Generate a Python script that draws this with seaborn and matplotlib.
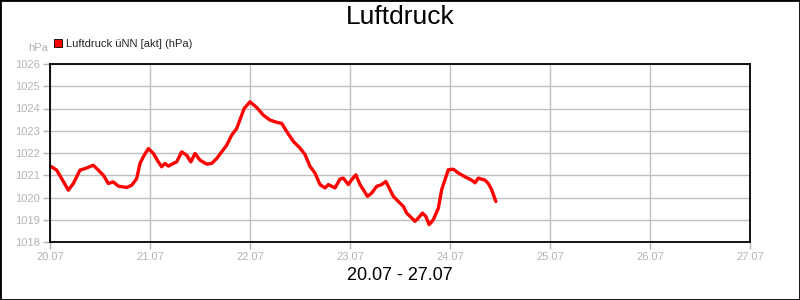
import matplotlib
matplotlib.use("Agg")
import matplotlib.pyplot as plt
from matplotlib.lines import Line2D
from matplotlib.patches import Rectangle
import seaborn as sns
import pandas as pd

# hours since 20.07 00:00
hours = [0.0, 0.4, 1.6, 2.8, 4.4, 5.6, 7.2, 8.4, 10.4, 11.6, 12.8, 14.0, 15.2, 16.4,
         18.4, 19.6, 20.8, 21.6, 22.4, 23.6, 24.8, 26.0, 26.8, 27.6, 28.4, 29.6, 30.4,
         31.6, 32.8, 33.8, 34.8, 36.0, 37.6, 38.8, 40.0, 41.2, 42.4, 43.6, 44.8, 45.6,
         46.6, 48.0, 49.6, 51.2, 52.8, 54.4, 55.6, 56.8, 58.4, 60.0, 61.2, 62.4, 63.6,
         64.8, 66.0, 66.8, 68.4, 69.6, 70.4, 71.6, 72.4, 73.4, 74.4, 75.2, 76.2, 77.2,
         78.4, 79.6, 80.6, 81.6, 82.4, 83.6, 84.8, 85.6, 86.8, 87.6, 88.4, 89.4, 90.2,
         91.0, 92.0, 93.2, 94.0, 94.8, 95.6, 96.8, 98.0, 99.6, 101.2, 102.0, 102.8,
         104.4, 105.2, 106.0, 107.0]
pressure = [1021.35, 1021.38, 1021.23, 1020.85, 1020.33, 1020.63, 1021.23, 1021.30,
            1021.45, 1021.23, 1021.00, 1020.63, 1020.70, 1020.51, 1020.45, 1020.55,
            1020.85, 1021.53, 1021.83, 1022.20, 1021.98, 1021.60, 1021.38, 1021.53,
            1021.41, 1021.53, 1021.60, 1022.05, 1021.90, 1021.60, 1021.98, 1021.68,
            1021.50, 1021.53, 1021.75, 1022.05, 1022.35, 1022.80, 1023.10, 1023.50,
            1024.00, 1024.30, 1024.05, 1023.70, 1023.48, 1023.38, 1023.33, 1022.97,
            1022.52, 1022.22, 1021.93, 1021.40, 1021.10, 1020.58, 1020.43, 1020.58,
            1020.43, 1020.83, 1020.87, 1020.58, 1020.80, 1021.02, 1020.58, 1020.35,
            1020.05, 1020.20, 1020.50, 1020.58, 1020.72, 1020.35, 1020.05, 1019.82,
            1019.60, 1019.30, 1019.08, 1018.93, 1019.08, 1019.30, 1019.15, 1018.78,
            1019.00, 1019.52, 1020.35, 1020.80, 1021.25, 1021.27, 1021.10, 1020.93,
            1020.78, 1020.66, 1020.87, 1020.78, 1020.63, 1020.35, 1019.82]

x_tick_labels = ["20.07", "21.07", "22.07", "23.07", "24.07", "25.07", "26.07", "27.07"]
y_ticks = [1018, 1019, 1020, 1021, 1022, 1023, 1024, 1025, 1026]
series_name = "Luftdruck üNN [akt] (hPa)"

sns.set_style("white")
plt.rcParams['font.family'] = ['Liberation Sans', 'DejaVu Sans']

df = pd.DataFrame({"hours": hours, "pressure": pressure})

fig = plt.figure(figsize=(8, 3), dpi=100)
ax = fig.add_axes([50 / 800, 58 / 300, 700 / 800, 178 / 300])

sns.lineplot(data=df, x="hours", y="pressure", ax=ax, color="#ff0000",
             linewidth=2.4, legend=False)

tick_gray = "#b4b4b4"
ax.set_xlim(0, 24 * 7)
ax.set_ylim(1018, 1026)
ax.set_xticks([24 * i for i in range(len(x_tick_labels))])
ax.set_xticklabels(x_tick_labels)
ax.set_yticks(y_ticks)
ax.set_yticklabels([str(v) for v in y_ticks])
ax.tick_params(axis="both", which="both", direction="out", length=5, width=1,
               color=tick_gray, labelcolor=tick_gray, labelsize=8, pad=2,
               bottom=True, left=True)
ax.grid(True, color="#c0c0c0", linewidth=1)
ax.set_axisbelow(True)
for s in ax.spines.values():
    s.set_color("black")
    s.set_linewidth(1.3)
ax.set_xlabel("")
ax.set_ylabel("")

fig.text(0.5, 1 - 17 / 300, "Luftdruck", ha="center", va="center", fontsize=19,
         color="black")
fig.text(0.5, 1 - 276 / 300, "20.07 - 27.07", ha="center", va="center", fontsize=13,
         color="black")
fig.text(48 / 800, 1 - 48 / 300, "hPa", ha="right", va="center", fontsize=8,
         color=tick_gray)

handle = Line2D([], [], linestyle="none", marker="s", markersize=6,
                markerfacecolor="#ff0000", markeredgecolor="black",
                markeredgewidth=0.6)
fig.legend([handle], [series_name], loc="center left",
           bbox_to_anchor=(54 / 800, 1 - 44 / 300), frameon=False, fontsize=8,
           handlelength=0.8, handletextpad=0.3, borderpad=0, borderaxespad=0)

fig.patches.append(Rectangle((0, 0), 1, 1, transform=fig.transFigure, fill=False,
                             edgecolor="black", linewidth=2))

fig.savefig("out.png", dpi=100)
